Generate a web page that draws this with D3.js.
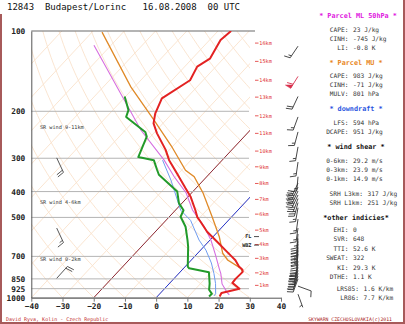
<!DOCTYPE html>
<html>
<head>
<meta charset="utf-8">
<script src="https://cdn.jsdelivr.net/npm/d3@7"></script>
<style>
  html, body { margin: 0; padding: 0; background: #fff; }
  svg { display: block; }
</style>
</head>
<body>
<script>
// ---- sounding data ----
const tempP = [990, 960, 925, 880, 850, 800, 786, 764, 724, 700, 673, 617, 566, 519, 500, 470, 418, 389, 342, 305, 279, 242, 222, 204, 179, 153, 136, 127, 108, 100];
const tempT = [20.0, 19.5, 24.0, 20.0, 19.8, 20.0, 19.3, 17.2, 14.2, 11.8, 9.0, 2.8, -3.4, -8.5, -10.8, -13.6, -19.2, -23.3, -30.5, -37.0, -41.2, -48.9, -53.0, -55.4, -57.8, -54.2, -56.0, -54.3, -56.5, -55.8];

const dewP = [990, 967, 934, 885, 803, 776, 764, 644, 608, 542, 497, 470, 442, 400, 346, 332, 305, 297, 249, 239, 210, 198, 176];
const dewT = [16.6, 16.7, 14.6, 12.9, 9.3, 1.8, 0.8, -5.0, -7.2, -11.8, -16.4, -17.4, -21.0, -25.0, -35.9, -37.9, -41.9, -47.8, -51.2, -53.1, -63.7, -65.0, -70.3];

// most-unstable parcel (from 801 hPa)
const muP = [800, 776, 722, 681, 591, 498, 405, 352, 333, 270, 216, 162, 101];
const muT = [19.9, 18.4, 11.6, 8.0, 2.0, -6.2, -16.3, -24.0, -28.7, -40.5, -53.8, -71.2, -96.8];

// mixed-layer (50 hPa) parcel
const mlP = [976, 955, 888, 812, 776, 694, 608, 542, 469, 405, 352, 305, 235, 113];
const mlT = [22.6, 21.1, 17.0, 13.5, 11.4, 6.4, 0.3, -5.8, -14.6, -21.7, -30.4, -38.6, -55.1, -95.5];

// wet-bulb temperature
const wbP = [985, 967, 885, 812, 741, 663, 608, 513, 470, 362, 305];
const wbT = [18.0, 17.9, 14.8, 11.3, 7.3, 1.7, -3.5, -12.1, -18.3, -30.5, -39.1];

// axes
const isobars = [1000, 925, 850, 700, 500, 400, 300, 200, 100];
const tempTicks = [-40, -30, -20, -10, 0, 10, 20, 30, 40];

// height marks (km) and their pressure levels
const kmHeights = [1, 2, 3, 4, 5, 6, 7, 8, 9, 10, 11, 12, 13, 14, 15, 16];
const kmP = [899, 807, 712, 632, 558, 486, 428, 373, 323, 282, 242, 208, 177, 153, 130, 111];

const flP = 590, wbzP = 635;

// wind profile (station pressure, direction deg, speed kt)
const windP   = [114, 148, 176, 210, 239, 272, 310, 352, 372, 385, 398, 412, 425, 440, 460, 507, 548, 577, 600, 615, 630, 648, 665, 685, 730, 750, 770, 790, 810, 830, 850, 905, 970];
const windDir = [214, 212, 205, 200, 195, 190, 188, 185, 205, 205, 205, 205, 200, 195, 190, 188, 188, 185, 185, 185, 185, 185, 185, 185, 190, 190, 195, 195, 195, 200, 200, 110, 160];
const windSpd = [15, 60, 20, 15, 15, 15, 15, 15, 30, 30, 30, 30, 25, 25, 15, 15, 15, 15, 20, 20, 20, 25, 25, 25, 30, 30, 30, 30, 25, 25, 20, 10, 5];

// storm-relative winds
const srLabels = ["SR wind 9-11km", "SR wind 4-6km", "SR wind 0-2km"];
const srLabelP = [229, 437, 716];
const srP = [299, 548, 846];
const srDir = [155, 155, 42];
const srSpd = [20, 15, 20];

// index panel
const mlNames = ["CAPE:", "CINH:", "LI:"];
const mlValues = ["23 J/kg", "-745 J/kg", "-0.8 K"];
const muNames = ["CAPE:", "CINH:", "MULV:"];
const muValues = ["983 J/kg", "-71 J/kg", "801 hPa"];
const ddNames = ["LFS:", "DCAPE:"];
const ddValues = ["594 hPa", "951 J/kg"];
const shearNames = ["0-6km:", "0-3km:", "0-1km:"];
const shearValues = ["29.2 m/s", "23.9 m/s", "14.9 m/s"];
const srhNames = ["SRH L3km:", "SRH L1km:"];
const srhValues = ["317 J/kg", "251 J/kg"];
const otherNames = ["EHI:", "SVR:", "TTI:", "SWEAT:", "KI:", "DTHE:"];
const otherValues = ["0", "648", "52.6 K", "322", "29.3 K", "1.1 K"];
const lapseNames = ["LRS85:", "LR86:"];
const lapseValues = ["1.6 K/km", "7.7 K/km"];

// ---- drawing ----
const W = 405, H = 324;
const MONO = "'DejaVu Sans Mono', 'Liberation Mono', monospace";
const svg = d3.select("body").append("svg").attr("width", W).attr("height", H);
svg.append("rect").attr("width", W).attr("height", H).attr("fill", "#fff");

const y = d3.scaleLog().domain([1000, 100]).range([297.7, 31]);
const x0 = d3.scaleLinear().domain([-40, 40]).range([31.3, 281]);
const SKEW = 0.934;
const sx = (T, p) => x0(T) + SKEW * (y(1000) - y(p));
const plotL = 31.3, plotR = 250, plotT = 31, plotB = 297.7;

svg.append("clipPath").attr("id", "plotclip")
  .append("rect").attr("x", plotL).attr("y", plotT).attr("width", plotR - plotL).attr("height", plotB - plotT);

const grid = svg.append("g").attr("clip-path", "url(#plotclip)");
const profLine = d3.line().x(d => sx(d[1], d[0])).y(d => y(d[0]));
const pLevels = d3.range(0, 61).map(i => 1000 * Math.pow(0.1, i / 60));
const GRID = "#f9e2cc";

// skewed isotherms
d3.range(-140, 41, 10).forEach(t => {
  grid.append("path").attr("d", profLine([[1000, t], [100, t]]))
    .attr("stroke", GRID).attr("stroke-width", 0.9).attr("fill", "none");
});
// dry adiabats
d3.range(-40, 181, 10).forEach(th => {
  const pts = pLevels.map(p => [p, (th + 273.15) * Math.pow(p / 1000, 0.2857) - 273.15]);
  grid.append("path").attr("d", profLine(pts))
    .attr("stroke", GRID).attr("stroke-width", 0.9).attr("fill", "none");
});

// isobars
isobars.forEach(p => {
  svg.append("line").attr("x1", plotL).attr("x2", p === 100 ? 255 : 249)
    .attr("y1", y(p)).attr("y2", y(p))
    .attr("stroke", p === 100 ? "#6a6a6a" : "#b4b4b4").attr("stroke-width", p === 100 ? 1.2 : 1);
});

// highlighted isotherms: -20 and 0
grid.append("path").attr("d", profLine([[1000, -20], [100, -20]]))
  .attr("stroke", "#8c2a38").attr("stroke-width", 1).attr("fill", "none");
grid.append("path").attr("d", profLine([[1000, 0], [100, 0]]))
  .attr("stroke", "#2233cc").attr("stroke-width", 1).attr("fill", "none");

// axes
const xAxis = d3.axisBottom(x0).tickValues(tempTicks).tickSize(4).tickSizeOuter(0).tickFormat(d3.format("d"));
const gx = svg.append("g").attr("transform", `translate(0,${plotB})`).call(xAxis);
gx.select(".domain").attr("stroke", "#555");
gx.selectAll(".tick line").attr("stroke", "#777");
gx.selectAll("text").attr("font-family", MONO).attr("font-size", 7.8).attr("font-weight", "bold")
  .attr("fill", "#222").attr("dy", "0.6em").attr("y", 7);

const yAxis = d3.axisLeft(y).tickValues(isobars).tickSize(0).tickSizeOuter(0).tickPadding(6).tickFormat(d3.format("d"));
const gy = svg.append("g").attr("transform", `translate(${plotL},0)`).call(yAxis);
gy.select(".domain").attr("stroke", "#555");
gy.selectAll("text").attr("font-family", MONO).attr("font-size", 7.8).attr("font-weight", "bold").attr("fill", "#222");

// profiles
const prof = svg.append("g").attr("clip-path", "url(#plotclip)");
const zipPT = (P, T) => P.map((p, i) => [p, T[i]]);
prof.append("path").attr("d", profLine(zipPT(wbP, wbT))).attr("stroke", "#6f9cf0").attr("stroke-width", 1).attr("fill", "none");
prof.append("path").attr("d", profLine(zipPT(mlP, mlT))).attr("stroke", "#d66ee0").attr("stroke-width", 1.1).attr("fill", "none");
prof.append("path").attr("d", profLine(zipPT(muP, muT))).attr("stroke", "#e08a28").attr("stroke-width", 1.3).attr("fill", "none");
prof.append("path").attr("d", profLine(zipPT(dewP, dewT))).attr("stroke", "#229a2a").attr("stroke-width", 2).attr("fill", "none").attr("stroke-linejoin", "round");
prof.append("path").attr("d", profLine(zipPT(tempP, tempT))).attr("stroke", "#e32222").attr("stroke-width", 2).attr("fill", "none").attr("stroke-linejoin", "round");

// height marks
kmHeights.forEach((k, i) => {
  const yy = y(kmP[i]);
  svg.append("line").attr("x1", 255).attr("x2", 258.5).attr("y1", yy).attr("y2", yy).attr("stroke", "#e03030").attr("stroke-width", 0.8);
  svg.append("text").attr("x", 259.3).attr("y", yy).attr("dy", "0.35em")
    .attr("font-family", MONO).attr("font-size", 5.2).attr("fill", "#e03030").text(k + "km");
});

// freezing level and wet-bulb zero
[["FL", flP], ["WBZ", wbzP]].forEach(([lab, p]) => {
  const yy = y(p);
  svg.append("text").attr("x", 251.5).attr("y", yy).attr("dy", "0.35em").attr("text-anchor", "end")
    .attr("font-family", MONO).attr("font-size", 5.2).attr("font-weight", "bold").attr("fill", "#222").text(lab);
  svg.append("line").attr("x1", 254).attr("x2", 259).attr("y1", yy).attr("y2", yy).attr("stroke", "#222").attr("stroke-width", 0.8);
});

// wind barbs
function barb(g, x, yy, dir, spd, color, L = 14, F = 6) {
  const step = 2.4;
  const a = dir * Math.PI / 180;
  const ux = Math.sin(a), uy = -Math.cos(a);
  const rx = -uy, ry = ux;
  const ex = x + ux * L, ey = yy + uy * L;
  let d = `M${x},${yy}L${ex},${ey}`;
  let s = Math.round(spd / 5) * 5, pos = 0;
  const fills = [];
  while (s >= 50) {
    const ax = ex - ux * pos, ay = ey - uy * pos;
    const bx = ex - ux * (pos + step * 1.6), by = ey - uy * (pos + step * 1.6);
    fills.push(`M${ax},${ay}L${ax + rx * F},${ay + ry * F}L${bx},${by}Z`);
    s -= 50; pos += step * 2;
  }
  while (s >= 10) {
    const px = ex - ux * pos, py = ey - uy * pos;
    d += `M${px},${py}L${px + rx * F + ux * 1.8},${py + ry * F + uy * 1.8}`;
    s -= 10; pos += step;
  }
  if (s >= 5) {
    if (pos === 0) pos = step;
    const px = ex - ux * pos, py = ey - uy * pos;
    d += `M${px},${py}L${px + rx * F / 2 + ux * 0.9},${py + ry * F / 2 + uy * 0.9}`;
  }
  g.append("path").attr("d", d).attr("stroke", color).attr("stroke-width", 0.9).attr("fill", "none");
  fills.forEach(f => g.append("path").attr("d", f).attr("fill", color).attr("stroke", color).attr("stroke-width", 0.6));
}
const wg = svg.append("g");
windP.forEach((p, i) => barb(wg, 298, y(p), windDir[i], windSpd[i], windSpd[i] >= 50 ? "#d8304e" : "#333"));

// storm-relative winds
srLabels.forEach((t, i) => {
  svg.append("text").attr("x", 40).attr("y", y(srLabelP[i])).attr("dy", "0.35em")
    .attr("font-family", MONO).attr("font-size", 5.2).attr("fill", "#333").text(t);
  barb(svg, 56.7, y(srP[i]), srDir[i], srSpd[i], "#444", 16, 7);
});

// header
svg.append("text").attr("x", 7).attr("y", 10).attr("font-family", MONO).attr("font-size", 9)
  .attr("fill", "#111").style("white-space", "pre")
  .text("12843  Budapest/Lorinc   16.08.2008  00 UTC");

// index panel
const panel = svg.append("g").attr("font-family", MONO);
function title(txt, yy, color, cx) {
  panel.append("text").attr("x", cx || 356).attr("y", yy).attr("dy", "0.35em").attr("text-anchor", "middle")
    .attr("font-size", 6.8).attr("font-weight", "bold").attr("fill", color).text(txt);
}
function rows(names, values, y0, dy, colonX) {
  names.forEach((n, i) => {
    const yy = y0 + i * dy;
    panel.append("text").attr("x", colonX).attr("y", yy).attr("dy", "0.35em").attr("text-anchor", "end")
      .attr("font-size", 6.2).attr("fill", "#333").text(n);
    panel.append("text").attr("x", colonX + 4.5).attr("y", yy).attr("dy", "0.35em")
      .attr("font-size", 6.2).attr("fill", "#333").text(values[i]);
  });
}
title("* Parcel ML 50hPa *", 16, "#e020e0", 358);
rows(mlNames, mlValues, 30, 9, 348.5);
title("* Parcel MU *", 63, "#e8871e");
rows(muNames, muValues, 76, 9, 348.5);
title("* downdraft *", 109, "#2a55e0");
rows(ddNames, ddValues, 122.7, 9.3, 348.5);
title("* wind shear *", 147, "#111");
rows(shearNames, shearValues, 160.5, 9.3, 348.5);
rows(srhNames, srhValues, 194, 9.3, 363);
title("*other indicies*", 217.5, "#111");
rows(otherNames, otherValues, 229.5, 9.5, 348.5);
rows(lapseNames, lapseValues, 288.5, 9.3, 359);

// credits
svg.append("text").attr("x", 6).attr("y", 319.5).attr("dy", "0.35em").attr("font-family", MONO)
  .attr("font-size", 5).attr("fill", "#c43030").text("David Ryva, Kolin - Czech Republic");
svg.append("text").attr("x", 392).attr("y", 319.5).attr("dy", "0.35em").attr("text-anchor", "end").attr("font-family", MONO)
  .attr("font-size", 4.8).attr("fill", "#a82020").text("SKYWARN CZECHOSLOVAKIA(c)2011");

// frame
svg.append("path").attr("d", `M1,14V323H404V0`).attr("stroke", "#a75a5a").attr("stroke-width", 2).attr("fill", "none");
</script>
</body>
</html>
